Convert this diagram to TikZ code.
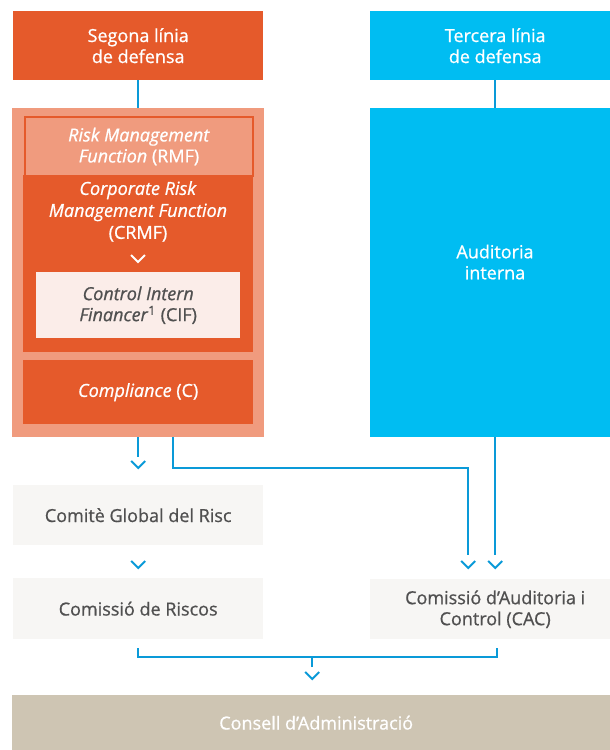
\documentclass[tikz,border=0pt]{standalone}
\usepackage{fontspec}
\setmainfont{Open Sans}[FakeBold=0.8]
\usetikzlibrary{positioning}
\definecolor{defred}{HTML}{E55A2B}
\definecolor{defsalmon}{HTML}{F09B7E}
\definecolor{defcyan}{HTML}{00BDF2}
\definecolor{linkblue}{HTML}{0A9AD8}
\definecolor{cifpink}{HTML}{FBEDE9}
\definecolor{boxgrey}{HTML}{F7F6F4}
\definecolor{greytxt}{HTML}{505050}
\definecolor{consellbg}{HTML}{CEC5B3}
\tikzset{
	blk/.style={anchor=north west, inner sep=0pt, align=center, font=\fontsize{18}{21}\selectfont},
	link/.style={draw=linkblue, line width=2pt},
	chev/.pic={\draw[line width=2pt, #1] (-7,-7) -- (0,0) -- (7,-7);}
}
\begin{document}
\begin{tikzpicture}[x=1pt,y=-1pt]
\useasboundingbox (0,0) rectangle (610,750);
\clip (0,0) rectangle (610,750);
\fill[white] (0,0) rectangle (610,750);

% second line of defence
\node[blk, fill=defred, text=white, minimum width=250, minimum height=69] (segona) at (13,11) {Segona línia\\de defensa};
\node[blk, fill=defsalmon, minimum width=252, minimum height=329] (marc) at (12,108) {};
\node[blk, fill=defsalmon, draw=defred, line width=2pt, text=white, minimum width=228, minimum height=59] (rmf) at (24,116) {\textit{Risk Management}\\\textit{Function} (RMF)};
\node[blk, fill=defred, minimum width=230, minimum height=177] (crmf) at (23,175) {};
\node[align=center, anchor=north, text=white, inner sep=0pt, font=\fontsize{18}{22}\selectfont] (crmftxt) at (138,181) {\textit{Corporate Risk}\\\textit{Management Function}\\(CRMF)};
\node[blk, fill=cifpink, text=greytxt, minimum width=204, minimum height=66] (cif) at (36,272) {\textit{Control Intern}\\\textit{Financer}\textsuperscript{1} (CIF)};
\node[blk, fill=defred, text=white, minimum width=230, minimum height=64] (comp) at (23,360) {\textit{Compliance} (C)};
\pic at (138,262) {chev=white};

% third line of defence
\node[blk, fill=defcyan, text=white, minimum width=250, minimum height=69] (tercera) at (370,11) {Tercera línia\\de defensa};
\node[blk, fill=defcyan, minimum width=250, minimum height=329] (audit) at (370,108) {};
\node[align=center, text=white, inner sep=0pt, font=\fontsize{18}{21}\selectfont] (audittxt) at (495,262) {Auditoria\\interna};

% committees
\node[blk, fill=boxgrey, text=greytxt, minimum width=250, minimum height=60] (comite) at (13,485) {Comitè Global del Risc};
\node[blk, fill=boxgrey, text=greytxt, minimum width=250, minimum height=61] (riscos) at (13,578) {Comissió de Riscos};
\node[blk, fill=boxgrey, text=greytxt, minimum width=250, minimum height=60] (cac) at (370,579) {Comissió d’Auditoria i\\Control (CAC)};
\node[blk, fill=consellbg, text=white, minimum width=608, minimum height=55] (consell) at (12,695) {Consell d’Administració};

\coordinate (t1) at ([yshift=17pt]comite.north);
\coordinate (t2) at ([yshift=10pt]riscos.north);
\coordinate (t3) at ([xshift=-27pt,yshift=11pt]cac.north);
\coordinate (t4) at ([yshift=11pt]cac.north);
\coordinate (t5) at ([xshift=-4pt,yshift=16pt]consell.north);

\draw[link] (segona.south) -- (segona.south |- marc.north);
\draw[link] (tercera.south) -- (audit.north);
\draw[link] (marc.south) -- ([yshift=11pt]t1);
\draw[link] ([xshift=35pt]marc.south) -- ++(0,31) -| ([yshift=13pt]t3);
\draw[link] (audit.south) -- ([yshift=13pt]t4);
\draw[link] ([yshift=-9pt]riscos.south) -- ++(0,9) -| ([xshift=2pt,yshift=-9pt]cac.south);
\draw[link] ([yshift=12pt]t5) -- ([yshift=22pt]t5);

\foreach \t in {t1,t2,t3,t4,t5}
	\pic at (\t) {chev=linkblue};
\end{tikzpicture}
\end{document}
